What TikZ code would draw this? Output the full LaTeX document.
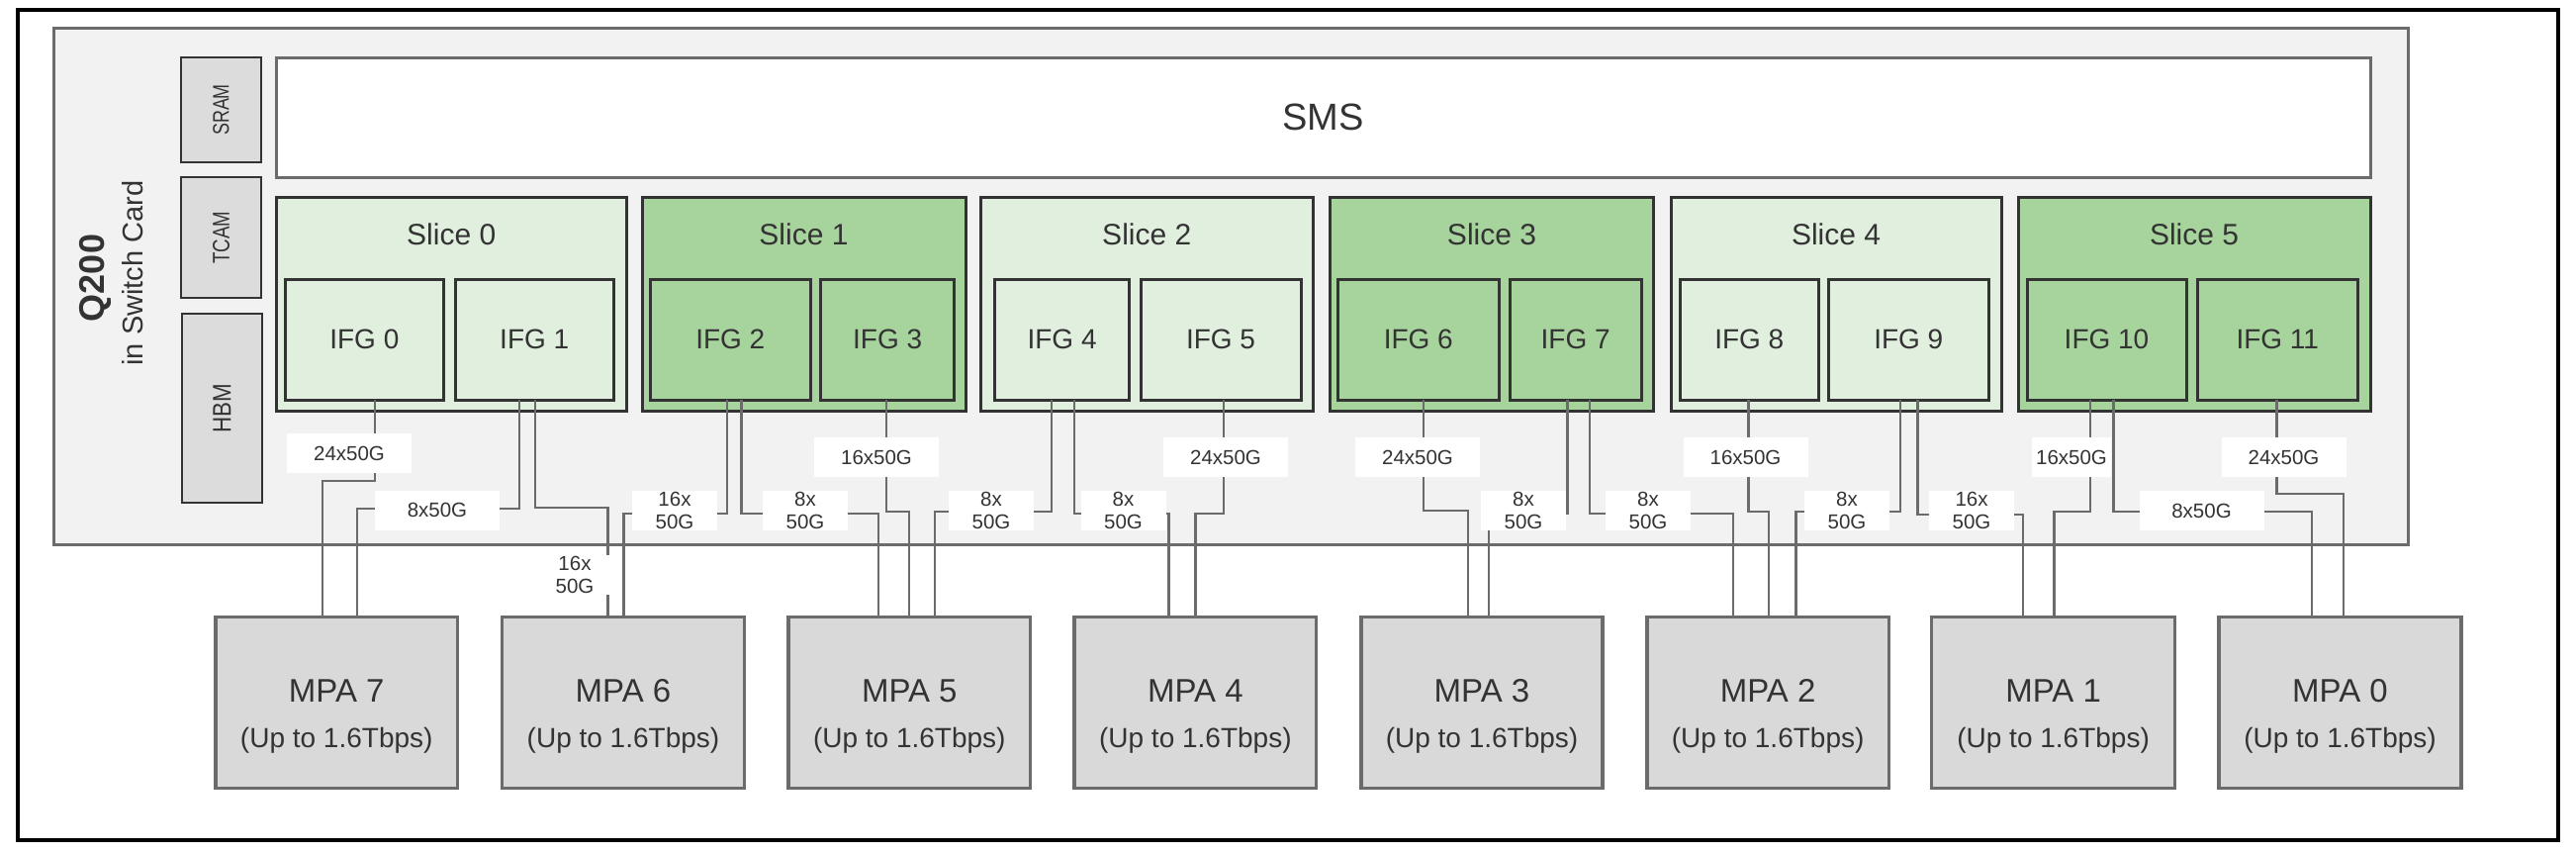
\documentclass[tikz,border=0pt]{standalone}
\usepackage{fontspec}
\setmainfont{Liberation Sans}
\usetikzlibrary{calc}
\definecolor{chipfill}{HTML}{F2F2F2}
\definecolor{chipline}{HTML}{6B6B6B}
\definecolor{memfill}{HTML}{DCDCDC}
\definecolor{darkline}{HTML}{333333}
\definecolor{lgreen}{HTML}{E1EFDF}
\definecolor{dgreen}{HTML}{A7D39D}
\definecolor{mpafill}{HTML}{D9D9D9}
\definecolor{txtc}{HTML}{333333}
\newcommand\myfs[1]{\fontsize{#1}{#1}\selectfont}
\newcommand\bx[7]{\node[boxb,#6,minimum width={#4-#2},minimum height={#5-#3}] (#1) at (#2,#3) {#7};}
\begin{document}
\begin{tikzpicture}[x=1pt,y=-1pt,
  boxb/.style={rectangle,anchor=north west,inner sep=0pt,outer sep=0pt,text=txtc},
  framebox/.style={draw=black,line width=3.5pt},
  chipbox/.style={draw=chipline,fill=chipfill,line width=3pt},
  smsbox/.style={draw=chipline,fill=white,line width=3pt,font=\myfs{38}},
  membox/.style={draw=darkline,fill=memfill,line width=2.5pt},
  lslice/.style={draw=darkline,fill=lgreen,line width=3pt},
  dslice/.style={draw=darkline,fill=dgreen,line width=3pt},
  lifg/.style={draw=darkline,fill=lgreen,line width=3pt,font=\myfs{28}},
  difg/.style={draw=darkline,fill=dgreen,line width=3pt,font=\myfs{28}},
  mpabox/.style={draw=chipline,fill=mpafill,line width=3.5pt},
  conn/.style={draw=chipline,line width=2.2pt},
  lab/.style={fill=white,inner sep=0pt,minimum width=126pt,minimum height=40pt,text=txtc,font=\myfs{20.5}},
  labtwo/.style={fill=white,inner sep=0pt,minimum width=86pt,minimum height=40pt,align=center,text=txtc,font=\fontsize{20.5}{22.7}\selectfont},
  slicet/.style={text=txtc,font=\myfs{30},inner sep=0pt},
  mpat/.style={text=txtc,font=\myfs{33},inner sep=0pt},
  mpas/.style={text=txtc,font=\myfs{28},inner sep=0pt},
  memt/.style={text=txtc,rotate=90,inner sep=0pt}
]
\useasboundingbox (0,0) rectangle (2604,862);
% frame and chip
\bx{frame}{18}{10}{2586}{849}{framebox}{}
\bx{chip}{54}{28}{2434}{550}{chipbox}{}
\bx{sms}{279}{58}{2396}{179.5}{smsbox}{SMS}
\bx{sram}{183}{58}{264}{164}{membox}{}
\bx{tcam}{183}{179}{264}{301}{membox}{}
\bx{hbm}{184}{317}{265}{508}{membox}{}
\node[memt] (sramt) at (sram.center) {\myfs{23}\scalebox{0.78}[1]{SRAM}};
\node[memt] (tcamt) at (tcam.center) {\myfs{24}\scalebox{0.78}[1]{TCAM}};
\node[memt] (hbmt) at (hbm.center) {\myfs{26}\scalebox{0.86}[1]{HBM}};
\node[text=txtc,rotate=90,inner sep=0pt,font=\bfseries\myfs{36}] (q200) at (96,281) {Q200};
\node[text=txtc,rotate=90,inner sep=0pt,font=\myfs{29}] (swc) at (134,276) {in Switch Card};
% MPAs
\bx{mpa7}{218}{623.3}{462.5}{796.7}{mpabox}{}
\bx{mpa6}{507.5}{623.3}{752.5}{796.7}{mpabox}{}
\bx{mpa5}{797}{623.3}{1041.6}{796.7}{mpabox}{}
\bx{mpa4}{1086}{623.3}{1330.7}{796.7}{mpabox}{}
\bx{mpa3}{1376}{623.3}{1620}{796.7}{mpabox}{}
\bx{mpa2}{1665}{623.3}{1909.3}{796.7}{mpabox}{}
\bx{mpa1}{1952.5}{623.3}{2198.7}{796.7}{mpabox}{}
\bx{mpa0}{2243}{623.3}{2488}{796.7}{mpabox}{}
\foreach \i in {0,...,7}{
  \node[mpat] (mpa\i t) at ([yshift=12pt]mpa\i.center) {MPA \i};
  \node[mpas] (mpa\i s) at ([yshift=-38pt]mpa\i.center) {(Up to 1.6Tbps)};
}
% slices (IFG nodes defined first for connectors drawn beneath)
\bx{s0}{279}{199.5}{633.5}{415.5}{lslice}{}
\bx{s1}{649}{199.5}{976}{415.5}{dslice}{}
\bx{s2}{991}{199.5}{1327.5}{415.5}{lslice}{}
\bx{s3}{1344.5}{199.5}{1671.5}{415.5}{dslice}{}
\bx{s4}{1689}{199.5}{2023}{415.5}{lslice}{}
\bx{s5}{2040}{199.5}{2396}{415.5}{dslice}{}
\foreach \i in {0,...,5}{
  \node[slicet] (s\i t) at ([yshift=-37.5pt]s\i.north) {Slice \i};
}
\bx{ifg0}{288}{282.3}{448.7}{404}{lifg}{IFG 0}
\bx{ifg1}{460}{282.3}{620.5}{404}{lifg}{IFG 1}
\bx{ifg2}{657.5}{282.3}{819}{404}{difg}{IFG 2}
\bx{ifg3}{829.7}{282.3}{964.6}{404}{difg}{IFG 3}
\bx{ifg4}{1005.4}{282.3}{1141.8}{404}{lifg}{IFG 4}
\bx{ifg5}{1153}{282.3}{1315}{404}{lifg}{IFG 5}
\bx{ifg6}{1352.5}{282.3}{1515}{404}{difg}{IFG 6}
\bx{ifg7}{1526.4}{282.3}{1659}{404}{difg}{IFG 7}
\bx{ifg8}{1698.6}{282.3}{1838}{404}{lifg}{IFG 8}
\bx{ifg9}{1848.5}{282.3}{2010}{404}{lifg}{IFG 9}
\bx{ifg10}{2049}{282.3}{2210}{404}{difg}{IFG 10}
\bx{ifg11}{2221.5}{282.3}{2383}{404}{difg}{IFG 11}
% connectors
\draw[conn] ([xshift=91pt]ifg0.south west) -- ++(0,81.7) -| ([xshift=108.3pt]mpa7.north west);
\draw[conn] ([xshift=65pt]ifg1.south west) -- ++(0,110) -| ([xshift=142.7pt]mpa7.north west);
\draw[conn] ([xshift=81pt]ifg1.south west) -- ++(0,109.3) -| ([xshift=107pt]mpa6.north west);
\draw[conn] ([xshift=77.5pt]ifg2.south west) -- ++(0,115) -| ([xshift=123pt]mpa6.north west);
\draw[conn] ([xshift=91.9pt]ifg2.south west) -- ++(0,115) -| ([xshift=90.7pt]mpa5.north west);
\draw[conn] ([xshift=66.6pt]ifg3.south west) -- ++(0,112.7) -| ([xshift=122.3pt]mpa5.north west);
\draw[conn] ([xshift=57.6pt]ifg4.south west) -- ++(0,113.3) -| ([xshift=148pt]mpa5.north west);
\draw[conn] ([xshift=80.6pt]ifg4.south west) -- ++(0,115.3) -| ([xshift=95.4pt]mpa4.north west);
\draw[conn] ([xshift=84pt]ifg5.south west) -- ++(0,115.3) -| ([xshift=122.4pt]mpa4.north west);
\draw[conn] ([xshift=86.5pt]ifg6.south west) -- ++(0,112) -| ([xshift=108pt]mpa3.north west);
\draw[conn] ([xshift=58pt]ifg7.south west) -- ++(0,115) -| ([xshift=128.6pt]mpa3.north west);
\draw[conn] ([xshift=80.9pt]ifg7.south west) -- ++(0,115.3) -| ([xshift=87pt]mpa2.north west);
\draw[conn] ([xshift=68.9pt]ifg8.south west) -- ++(0,112.7) -| ([xshift=122.6pt]mpa2.north west);
\draw[conn] ([xshift=72.5pt]ifg9.south west) -- ++(0,112.7) -| ([xshift=150.4pt]mpa2.north west);
\draw[conn] ([xshift=90pt]ifg9.south west) -- ++(0,116) -| ([xshift=92.1pt]mpa1.north west);
\draw[conn] ([xshift=63.8pt]ifg10.south west) -- ++(0,112.7) -| ([xshift=123.9pt]mpa1.north west);
\draw[conn] ([xshift=87.4pt]ifg10.south west) -- ++(0,113.3) -| ([xshift=94pt]mpa0.north west);
\draw[conn] ([xshift=80pt]ifg11.south west) -- ++(0,95.3) -| ([xshift=126pt]mpa0.north west);
% labels
\node[lab] (l1) at (353,458) {24x50G};
\node[lab] (l2) at (442,515.5) {8x50G};
\node[labtwo] (l3) at (581,581) {16x\\50G};
\node[labtwo] (l4) at (682,516) {16x\\50G};
\node[labtwo] (l5) at (814,516) {8x\\50G};
\node[lab] (l6) at (886,462) {16x50G};
\node[labtwo] (l7) at (1002,516) {8x\\50G};
\node[labtwo] (l8) at (1135.5,516) {8x\\50G};
\node[lab] (l9) at (1239,462) {24x50G};
\node[lab] (l10) at (1433,462) {24x50G};
\node[labtwo] (l11) at (1540,516) {8x\\50G};
\node[labtwo] (l12) at (1666,516) {8x\\50G};
\node[lab] (l13) at (1764.5,462) {16x50G};
\node[labtwo] (l14) at (1867,516) {8x\\50G};
\node[labtwo] (l15) at (1993,516) {16x\\50G};
\node[lab,minimum width=80pt] (l16) at (2094,462) {16x50G};
\node[lab] (l17) at (2225.5,516) {8x50G};
\node[lab] (l18) at (2308.5,462) {24x50G};
\end{tikzpicture}
\end{document}
